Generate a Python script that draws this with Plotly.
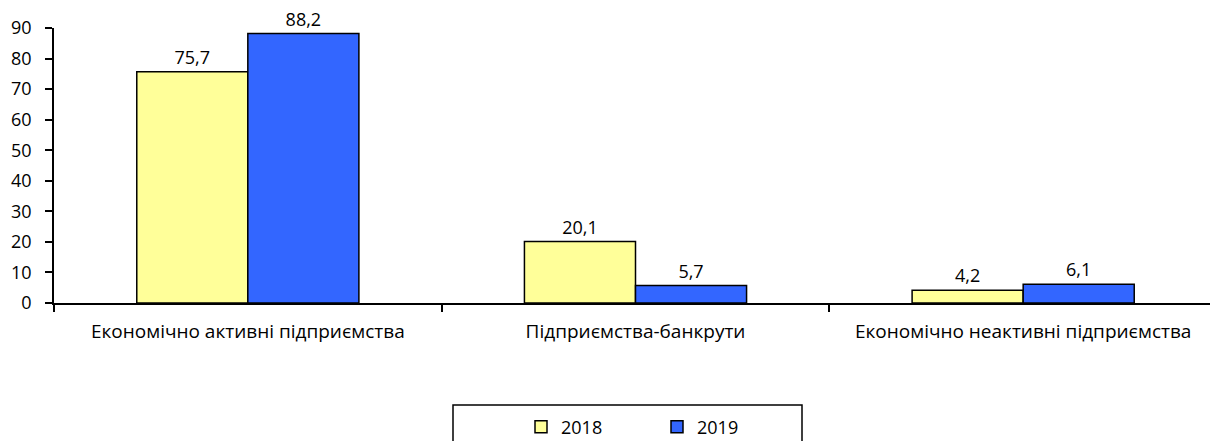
import plotly.graph_objects as go

categories = ["Економічно активні підприємства", "Підприємства-банкрути", "Економічно неактивні підприємства"]
series_names = ["2018", "2019"]
values_2018 = [75.7, 20.1, 4.2]
values_2019 = [88.2, 5.7, 6.1]
colors = ["#FFFF99", "#3366FF"]
y_ticks = [0, 10, 20, 30, 40, 50, 60, 70, 80, 90]

FONT = "Open Sans"
OFF = 8  # default page body margin
W, H = 1218 - OFF, 441 - OFF
PX0, PY0, PY1 = 54, 28, 303  # plot left / top / bottom in page pixels
L, R, T = PX0 - OFF, 1, PY0 - OFF
B = H - (PY1 - OFF)
PW, PH = W - L - R, H - T - B


def fx(px):
    return (px - PX0) / PW


def fy(py):
    return (PY1 - py) / PH


fig = go.Figure()
for name, vals, col in zip(series_names, [values_2018, values_2019], colors):
    fig.add_trace(go.Bar(
        name=name, x=categories, y=vals,
        marker=dict(color=col, line=dict(color="black", width=1.5)),
        texttemplate="%{y:.1f}", textposition="outside",
        textfont=dict(family=FONT, size=18, color="black"),
        cliponaxis=False,
    ))

fig.update_layout(
    width=W, height=H,
    margin=dict(l=L, r=R, t=T, b=B, autoexpand=False),
    paper_bgcolor="white", plot_bgcolor="white",
    barmode="group", bargap=0.427, bargroupgap=0,
    separators=",.",
    font=dict(family=FONT, size=18, color="black"),
    showlegend=True,
    legend=dict(orientation="h", x=fx(521), xanchor="left",
                y=fy(427), yanchor="middle",
                bgcolor="rgba(0,0,0,0)", font=dict(family=FONT, size=18),
                entrywidth=91, entrywidthmode="pixels", traceorder="normal"),
    xaxis=dict(showline=True, linecolor="black", linewidth=1.5, automargin=False,
               ticks="outside", tickson="boundaries", ticklen=7, tickcolor="black",
               tickwidth=1.5, tickfont=dict(family=FONT, size=19), ticklabelstandoff=10,
               showgrid=False),
    yaxis=dict(range=[0, 90], tickvals=y_ticks, showline=True, linecolor="black", linewidth=1.5,
               automargin=False, ticks="outside", ticklen=7, tickcolor="black", tickwidth=1.5,
               showgrid=False, zeroline=False, tickfont=dict(family=FONT, size=18),
               ticklabelstandoff=10),
)
fig.add_shape(type="rect", xref="paper", yref="paper",
              x0=fx(453), x1=fx(802), y0=fy(405), y1=fy(452),
              line=dict(color="black", width=1.5), fillcolor="rgba(0,0,0,0)")

fig.write_html("out.html")
